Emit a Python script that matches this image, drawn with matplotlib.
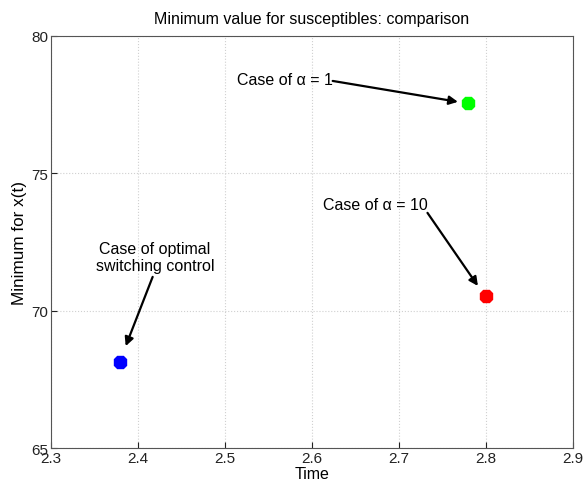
import matplotlib.pyplot as plt

plt.rcParams['font.family'] = ['Liberation Sans', 'DejaVu Sans']

# data points: (time, minimum of x(t))
times = [2.38, 2.78, 2.80]
minimums = [68.12, 77.55, 70.52]
colors = ['#0000ff', '#00ff00', '#ff0000']

xticks = [2.3, 2.4, 2.5, 2.6, 2.7, 2.8, 2.9]
yticks = [65, 70, 75, 80]

fig = plt.figure(figsize=(5.85, 4.85), dpi=100)
ax = fig.add_axes([0.087, 0.074, 0.892, 0.850])

for t, m, c in zip(times, minimums, colors):
    ax.plot(t, m, '8', color=c, markersize=10, markeredgecolor=c)

ax.set_xlim(2.3, 2.9)
ax.set_ylim(65, 80)
ax.set_xticks(xticks)
ax.set_yticks(yticks)
ax.set_xticklabels([str(v) for v in xticks])
ax.grid(True, linestyle=':', color='#d0d0d0', linewidth=0.8)
ax.tick_params(direction='in', length=4, labelsize=11, pad=2, colors='#222222')
for s in ax.spines.values():
    s.set_color('#555555')
    s.set_linewidth(0.8)

ax.set_title('Minimum value for susceptibles: comparison', fontsize=11.5, pad=9)
ax.set_xlabel('Time', fontsize=11.5, labelpad=1)
ax.set_ylabel('Minimum for x(t)', fontsize=12.3, labelpad=3)

arrow = dict(arrowstyle='-|>', color='k', lw=1.6, mutation_scale=13, shrinkA=0, shrinkB=0)

ax.text(2.624, 78.4, 'Case of α = 1', ha='right', va='center', fontsize=11.5)
ax.annotate('', xy=(2.768, 77.6), xytext=(2.624, 78.36), arrowprops=arrow)

ax.text(2.733, 73.85, 'Case of α = 10', ha='right', va='center', fontsize=11.5)
ax.annotate('', xy=(2.791, 70.9), xytext=(2.733, 73.56), arrowprops=arrow)

ax.text(2.4195, 71.95, 'Case of optimal\nswitching control', ha='center', va='center',
        fontsize=11.5, linespacing=1.15)
ax.annotate('', xy=(2.386, 68.71), xytext=(2.417, 71.23), arrowprops=arrow)

plt.savefig('out.png', dpi=100)
